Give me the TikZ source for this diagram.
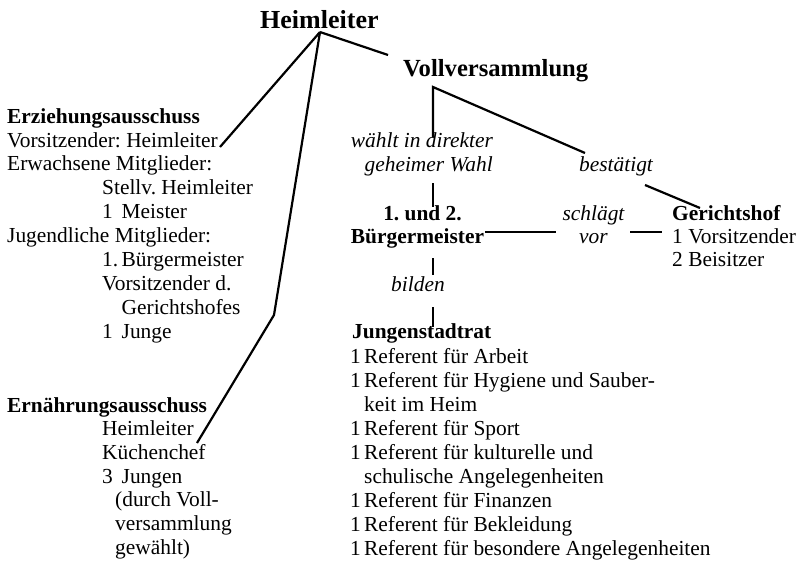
\documentclass[tikz,border=0pt]{standalone}
\usepackage{fontspec}
\setmainfont{Liberation Serif}
\frenchspacing
\begin{document}
\begin{tikzpicture}[x=1pt,y=-1pt,
  txt/.style={anchor=base west,inner sep=0pt,font=\fontsize{21.4}{24}\selectfont},
  txtr/.style={txt,anchor=base east},
  bfx/.style={txt,font=\fontsize{21.4}{24}\selectfont\bfseries},
  itx/.style={txt,font=\fontsize{21.4}{24}\selectfont\itshape},
  itr/.style={itx,anchor=base east},
  title/.style={txt,font=\fontsize{26}{30}\selectfont\bfseries},
  conn/.style={line width=2.2pt}]
\useasboundingbox (0,0) rectangle (800,562);
% titles
\node[title] (hl) at (260,28) {Heimleiter};
\node[title,font=\fontsize{24.6}{30}\selectfont\bfseries] (vv) at (403,76) {Vollversammlung};
% Erziehungsausschuss
\node[bfx] (ea) at (7,123) {Erziehungsausschuss};
\node[txt] (ea1) at (7,147) {Vorsitzender: Heimleiter};
\node[txt] (ea2) at (7,170.8) {Erwachsene Mitglieder:};
\node[txt] (ea3) at (102,194.7) {Stellv. Heimleiter};
\node[txt] (ea4n) at (102,218.6) {1};
\node[txt] (ea4) at (121.5,218.6) {Meister};
\node[txt] (ea5) at (7,242.5) {Jugendliche Mitglieder:};
\node[txt] (ea6n) at (102,266.4) {1.};
\node[txt] (ea6) at (121.5,266.4) {Bürgermeister};
\node[txt] (ea7) at (102,290.3) {Vorsitzender d.};
\node[txt] (ea8) at (121.5,314.2) {Gerichtshofes};
\node[txt] (ea9n) at (102,338) {1};
\node[txt] (ea9) at (121.5,338) {Junge};
% Ernaehrungsausschuss
\node[bfx] (ne) at (7,412) {Ernährungsausschuss};
\node[txt] (ne1) at (102,435.5) {Heimleiter};
\node[txt] (ne2) at (102,459) {Küchenchef};
\node[txt] (ne3n) at (102,483) {3};
\node[txt] (ne3) at (121.5,483) {Jungen};
\node[txt] (ne4) at (115,506.5) {(durch Voll-};
\node[txt] (ne5) at (115,530) {versammlung};
\node[txt] (ne6) at (115,554) {gewählt)};
% middle labels
\node[itr] (w1) at (493,147) {wählt in direkter};
\node[itr] (w2) at (493,171) {geheimer Wahl};
\node[itx] (best) at (579,171) {bestätigt};
\node[bfx,anchor=base] (bm1) at (422.5,220) {1. und 2.};
\node[bfx,anchor=base] (bm2) at (417.5,243) {Bürgermeister};
\node[itx,anchor=base] (sv1) at (593.5,220) {schlägt};
\node[itx,anchor=base] (sv2) at (593.5,243) {vor};
\node[bfx] (gh) at (672,220) {Gerichtshof};
\node[txt] (gh1) at (672,243) {1 Vorsitzender};
\node[txt] (gh2) at (672,266.5) {2 Beisitzer};
\node[itx] (bil) at (391,291) {bilden};
% Jungenstadtrat
\node[bfx] (js) at (352,338) {Jungenstadtrat};
\foreach \n/\y/\t in {1/363/Referent für Arbeit,
                      2/387/Referent für Hygiene und Sauber-,
                      4/435/Referent für Sport,
                      5/459/Referent für kulturelle und,
                      7/507/Referent für Finanzen,
                      8/531/Referent für Bekleidung,
                      9/555/Referent für besondere Angelegenheiten}{
  \node[txt] (jsn\n) at (350,\y) {1};
  \node[txt] (js\n) at (364,\y) {\t};
}
\node[txt] (js3) at (364,411) {keit im Heim};
\node[txt] (js6) at (364,483) {schulische Angelegenheiten};
% connector points
\coordinate (hlc) at (320,32);
\coordinate (eaend) at (220,147);
\coordinate (vvend) at (388,55);
\coordinate (kbend) at (274,315);
\coordinate (neend) at (197,443);
\coordinate (vvc) at (433,87);
\coordinate (vvdown) at (433,137);
\coordinate (bestin) at (585,153);
\coordinate (bestout) at (645,185);
\coordinate (ghin) at (700,208);
\coordinate (bmtop1) at (433,183);
\coordinate (bmtop2) at (433,207);
\coordinate (bmr) at (485,232);
\coordinate (svl) at (556,232);
\coordinate (svr) at (630,232);
\coordinate (ghl) at (662,232);
\coordinate (bil1) at (433,258);
\coordinate (bil2) at (433,275);
\coordinate (bil3) at (433,307);
\coordinate (bil4) at (433,327);
% connectors
\draw[conn] (hlc) -- (eaend);
\draw[conn] (hlc) -- (vvend);
\draw[conn] (hlc) -- (kbend) -- (neend);
\draw[conn] (vvdown) -- (vvc) -- (bestin);
\draw[conn] (bestout) -- (ghin);
\draw[conn] (bmtop1) -- (bmtop2);
\draw[conn] (bmr) -- (svl);
\draw[conn] (svr) -- (ghl);
\draw[conn] (bil1) -- (bil2);
\draw[conn] (bil3) -- (bil4);
\end{tikzpicture}
\end{document}
